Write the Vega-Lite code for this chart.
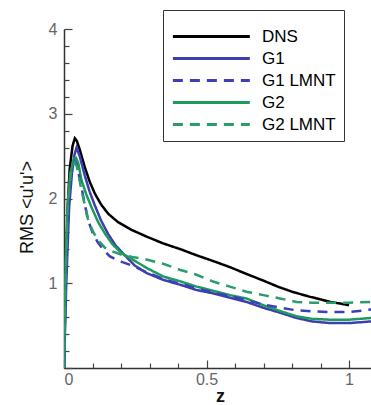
{
  "$schema": "https://vega.github.io/schema/vega-lite/v6.json",
  "width": 307,
  "height": 339,
  "autosize": "none",
  "padding": {"left": 64, "top": 29, "right": 0, "bottom": 37},
  "background": "white",
  "config": {
    "view": {"stroke": null},
    "axis": {"grid": false, "domainColor": "#333", "domainWidth": 1.5, "tickColor": "#444", "tickWidth": 1.2, "labelFont": "Liberation Sans", "labelFontSize": 16, "labelColor": "#666", "titleFont": "Liberation Sans", "titleColor": "#111"}
  },
  "datasets": {
    "curves": [
      {"s": "DNS", "z": 0, "v": 0}, {"s": "DNS", "z": 0.006, "v": 1.0}, {"s": "DNS", "z": 0.013, "v": 1.9}, {"s": "DNS", "z": 0.02, "v": 2.35}, {"s": "DNS", "z": 0.03, "v": 2.62}, {"s": "DNS", "z": 0.038, "v": 2.71}, {"s": "DNS", "z": 0.045, "v": 2.68}, {"s": "DNS", "z": 0.055, "v": 2.58}, {"s": "DNS", "z": 0.073, "v": 2.37}, {"s": "DNS", "z": 0.09, "v": 2.2}, {"s": "DNS", "z": 0.108, "v": 2.06}, {"s": "DNS", "z": 0.13, "v": 1.93}, {"s": "DNS", "z": 0.155, "v": 1.82}, {"s": "DNS", "z": 0.19, "v": 1.72}, {"s": "DNS", "z": 0.237, "v": 1.63}, {"s": "DNS", "z": 0.29, "v": 1.55}, {"s": "DNS", "z": 0.348, "v": 1.47}, {"s": "DNS", "z": 0.41, "v": 1.4}, {"s": "DNS", "z": 0.465, "v": 1.33}, {"s": "DNS", "z": 0.525, "v": 1.26}, {"s": "DNS", "z": 0.582, "v": 1.19}, {"s": "DNS", "z": 0.64, "v": 1.11}, {"s": "DNS", "z": 0.7, "v": 1.03}, {"s": "DNS", "z": 0.75, "v": 0.96}, {"s": "DNS", "z": 0.8, "v": 0.9}, {"s": "DNS", "z": 0.863, "v": 0.84}, {"s": "DNS", "z": 0.9, "v": 0.81}, {"s": "DNS", "z": 0.933, "v": 0.78}, {"s": "DNS", "z": 0.97, "v": 0.76}, {"s": "DNS", "z": 1.0, "v": 0.74},
      {"s": "G1", "z": 0, "v": 0}, {"s": "G1", "z": 0.008, "v": 1.0}, {"s": "G1", "z": 0.018, "v": 1.9}, {"s": "G1", "z": 0.028, "v": 2.3}, {"s": "G1", "z": 0.037, "v": 2.52}, {"s": "G1", "z": 0.044, "v": 2.6}, {"s": "G1", "z": 0.055, "v": 2.5}, {"s": "G1", "z": 0.073, "v": 2.27}, {"s": "G1", "z": 0.09, "v": 2.08}, {"s": "G1", "z": 0.108, "v": 1.92}, {"s": "G1", "z": 0.13, "v": 1.74}, {"s": "G1", "z": 0.155, "v": 1.58}, {"s": "G1", "z": 0.18, "v": 1.45}, {"s": "G1", "z": 0.213, "v": 1.33}, {"s": "G1", "z": 0.248, "v": 1.21}, {"s": "G1", "z": 0.29, "v": 1.12}, {"s": "G1", "z": 0.348, "v": 1.04}, {"s": "G1", "z": 0.41, "v": 0.98}, {"s": "G1", "z": 0.465, "v": 0.92}, {"s": "G1", "z": 0.525, "v": 0.88}, {"s": "G1", "z": 0.582, "v": 0.83}, {"s": "G1", "z": 0.64, "v": 0.78}, {"s": "G1", "z": 0.7, "v": 0.71}, {"s": "G1", "z": 0.76, "v": 0.65}, {"s": "G1", "z": 0.816, "v": 0.59}, {"s": "G1", "z": 0.87, "v": 0.55}, {"s": "G1", "z": 0.933, "v": 0.53}, {"s": "G1", "z": 1.0, "v": 0.53}, {"s": "G1", "z": 1.04, "v": 0.54}, {"s": "G1", "z": 1.077, "v": 0.55},
      {"s": "G1 LMNT", "z": 0, "v": 0}, {"s": "G1 LMNT", "z": 0.005, "v": 1.0}, {"s": "G1 LMNT", "z": 0.014, "v": 1.9}, {"s": "G1 LMNT", "z": 0.025, "v": 2.3}, {"s": "G1 LMNT", "z": 0.038, "v": 2.44}, {"s": "G1 LMNT", "z": 0.045, "v": 2.4}, {"s": "G1 LMNT", "z": 0.06, "v": 2.15}, {"s": "G1 LMNT", "z": 0.084, "v": 1.75}, {"s": "G1 LMNT", "z": 0.1, "v": 1.6}, {"s": "G1 LMNT", "z": 0.119, "v": 1.48}, {"s": "G1 LMNT", "z": 0.137, "v": 1.4}, {"s": "G1 LMNT", "z": 0.16, "v": 1.32}, {"s": "G1 LMNT", "z": 0.178, "v": 1.29}, {"s": "G1 LMNT", "z": 0.205, "v": 1.25}, {"s": "G1 LMNT", "z": 0.237, "v": 1.21}, {"s": "G1 LMNT", "z": 0.29, "v": 1.13}, {"s": "G1 LMNT", "z": 0.348, "v": 1.05}, {"s": "G1 LMNT", "z": 0.41, "v": 0.99}, {"s": "G1 LMNT", "z": 0.465, "v": 0.94}, {"s": "G1 LMNT", "z": 0.525, "v": 0.89}, {"s": "G1 LMNT", "z": 0.582, "v": 0.85}, {"s": "G1 LMNT", "z": 0.64, "v": 0.8}, {"s": "G1 LMNT", "z": 0.7, "v": 0.75}, {"s": "G1 LMNT", "z": 0.76, "v": 0.71}, {"s": "G1 LMNT", "z": 0.816, "v": 0.68}, {"s": "G1 LMNT", "z": 0.87, "v": 0.67}, {"s": "G1 LMNT", "z": 0.933, "v": 0.66}, {"s": "G1 LMNT", "z": 1.0, "v": 0.66}, {"s": "G1 LMNT", "z": 1.077, "v": 0.69},
      {"s": "G2", "z": 0, "v": 0}, {"s": "G2", "z": 0.004, "v": 1.0}, {"s": "G2", "z": 0.012, "v": 1.9}, {"s": "G2", "z": 0.022, "v": 2.3}, {"s": "G2", "z": 0.035, "v": 2.47}, {"s": "G2", "z": 0.042, "v": 2.48}, {"s": "G2", "z": 0.05, "v": 2.42}, {"s": "G2", "z": 0.061, "v": 2.22}, {"s": "G2", "z": 0.078, "v": 2.05}, {"s": "G2", "z": 0.096, "v": 1.9}, {"s": "G2", "z": 0.12, "v": 1.72}, {"s": "G2", "z": 0.143, "v": 1.59}, {"s": "G2", "z": 0.17, "v": 1.46}, {"s": "G2", "z": 0.2, "v": 1.36}, {"s": "G2", "z": 0.231, "v": 1.3}, {"s": "G2", "z": 0.29, "v": 1.18}, {"s": "G2", "z": 0.348, "v": 1.08}, {"s": "G2", "z": 0.41, "v": 1.02}, {"s": "G2", "z": 0.465, "v": 0.96}, {"s": "G2", "z": 0.525, "v": 0.91}, {"s": "G2", "z": 0.582, "v": 0.86}, {"s": "G2", "z": 0.64, "v": 0.82}, {"s": "G2", "z": 0.7, "v": 0.74}, {"s": "G2", "z": 0.76, "v": 0.67}, {"s": "G2", "z": 0.816, "v": 0.61}, {"s": "G2", "z": 0.87, "v": 0.58}, {"s": "G2", "z": 0.933, "v": 0.57}, {"s": "G2", "z": 1.0, "v": 0.57}, {"s": "G2", "z": 1.077, "v": 0.59},
      {"s": "G2 LMNT", "z": 0, "v": 0}, {"s": "G2 LMNT", "z": 0.005, "v": 1.0}, {"s": "G2 LMNT", "z": 0.013, "v": 1.9}, {"s": "G2 LMNT", "z": 0.024, "v": 2.3}, {"s": "G2 LMNT", "z": 0.037, "v": 2.42}, {"s": "G2 LMNT", "z": 0.045, "v": 2.38}, {"s": "G2 LMNT", "z": 0.06, "v": 2.12}, {"s": "G2 LMNT", "z": 0.084, "v": 1.76}, {"s": "G2 LMNT", "z": 0.1, "v": 1.62}, {"s": "G2 LMNT", "z": 0.119, "v": 1.51}, {"s": "G2 LMNT", "z": 0.143, "v": 1.42}, {"s": "G2 LMNT", "z": 0.166, "v": 1.38}, {"s": "G2 LMNT", "z": 0.2, "v": 1.34}, {"s": "G2 LMNT", "z": 0.24, "v": 1.31}, {"s": "G2 LMNT", "z": 0.278, "v": 1.29}, {"s": "G2 LMNT", "z": 0.348, "v": 1.23}, {"s": "G2 LMNT", "z": 0.406, "v": 1.16}, {"s": "G2 LMNT", "z": 0.465, "v": 1.1}, {"s": "G2 LMNT", "z": 0.523, "v": 1.02}, {"s": "G2 LMNT", "z": 0.582, "v": 0.96}, {"s": "G2 LMNT", "z": 0.64, "v": 0.9}, {"s": "G2 LMNT", "z": 0.7, "v": 0.86}, {"s": "G2 LMNT", "z": 0.758, "v": 0.82}, {"s": "G2 LMNT", "z": 0.816, "v": 0.78}, {"s": "G2 LMNT", "z": 0.87, "v": 0.77}, {"s": "G2 LMNT", "z": 0.933, "v": 0.77}, {"s": "G2 LMNT", "z": 1.0, "v": 0.77}, {"s": "G2 LMNT", "z": 1.077, "v": 0.78}
    ]
  },
  "layer": [
    {
      "data": {"name": "curves"},
      "transform": [{"filter": "indexof(datum.s, 'LMNT') < 0"}],
      "mark": {"type": "line", "strokeWidth": 2.5, "clip": true},
      "encoding": {
        "x": {"field": "z", "type": "quantitative", "scale": {"domain": [0, 1.077], "nice": false},
          "axis": {"orient": "bottom", "values": [0, 0.5, 1], "tickSize": -8, "labelPadding": 11, "format": "~g", "title": "z", "titleFontSize": 18, "titleFontWeight": "bold", "titleBaseline": "middle", "titleX": 156, "titleY": 28}},
        "y": {"field": "v", "type": "quantitative", "scale": {"domain": [0, 4], "nice": false},
          "axis": {"orient": "left", "values": [0, 1, 2, 3, 4], "tickSize": -8, "labelPadding": 15, "labelExpr": "datum.value == 0 ? '' : datum.label", "title": "RMS <u'u'>", "titleFontSize": 18, "titleFontWeight": "normal", "titleAngle": -90, "titleBaseline": "middle", "titleAlign": "center", "titleX": -37, "titleY": 178}},
        "color": {"field": "s", "type": "nominal",
          "scale": {"domain": ["DNS", "G1", "G1 LMNT", "G2", "G2 LMNT"], "range": ["#000000", "#3d3fae", "#3b40b8", "#1e9a5e", "#2b9d6c"]},
          "legend": {"orient": "none", "legendX": 99, "legendY": -19, "padding": 8, "strokeColor": "#333", "fillColor": "white", "symbolType": "M-1,0H7", "symbolSize": 370, "symbolStrokeWidth": 3, "labelFont": "Liberation Sans", "labelFontSize": 17, "labelColor": "#000", "labelOffset": 68, "rowPadding": 2, "title": " ", "titleFontSize": 1, "titlePadding": 6}},
        "strokeDash": {"field": "s", "type": "nominal",
          "scale": {"domain": ["DNS", "G1", "G1 LMNT", "G2", "G2 LMNT"], "range": [[1, 0], [1, 0], [10, 7], [1, 0], [10, 7]]},
          "legend": {"orient": "none", "legendX": 99, "legendY": -19, "padding": 8, "strokeColor": "#333", "fillColor": "white", "symbolType": "M-1,0H7", "symbolSize": 370, "symbolStrokeWidth": 3, "labelFont": "Liberation Sans", "labelFontSize": 17, "labelColor": "#000", "labelOffset": 68, "rowPadding": 2, "title": " ", "titleFontSize": 1, "titlePadding": 6}}
      }
    },
    {
      "data": {"name": "curves"},
      "transform": [{"filter": "indexof(datum.s, 'LMNT') >= 0"}],
      "mark": {"type": "line", "strokeWidth": 2.5, "clip": true},
      "encoding": {
        "x": {"field": "z", "type": "quantitative",
          "axis": {"orient": "bottom", "values": [0.1, 0.2, 0.3, 0.4, 0.6, 0.7, 0.8, 0.9], "tickSize": -5, "labels": false, "domain": false, "title": null}},
        "y": {"field": "v", "type": "quantitative",
          "axis": {"orient": "left", "values": [0.2, 0.4, 0.6, 0.8, 1.2, 1.4, 1.6, 1.8, 2.2, 2.4, 2.6, 2.8, 3.2, 3.4, 3.6, 3.8], "tickSize": -5, "labels": false, "domain": false, "title": null}},
        "color": {"field": "s", "type": "nominal"},
        "strokeDash": {"field": "s", "type": "nominal"}
      }
    }
  ],
  "resolve": {"axis": {"x": "independent", "y": "independent"}}
}
